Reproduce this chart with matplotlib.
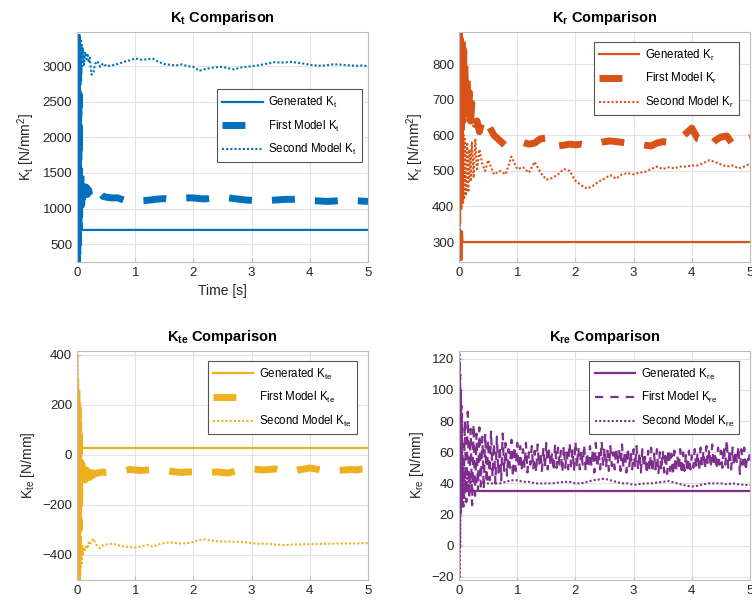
import numpy as np
import matplotlib
matplotlib.use("Agg")
import matplotlib.pyplot as plt

plt.rcParams["font.family"] = ["Liberation Sans", "DejaVu Sans"]
plt.rcParams["mathtext.fontset"] = "custom"
plt.rcParams["mathtext.rm"] = "Liberation Sans"
plt.rcParams["mathtext.it"] = "Liberation Sans"
plt.rcParams["mathtext.bf"] = "Liberation Sans:bold"
plt.rcParams["mathtext.default"] = "regular"


# =========================================================
# TIME BASES [s]
# =========================================================

T_START = [0.000, 0.005, 0.010, 0.015, 0.020, 0.025, 0.030, 0.035, 0.040, 0.045, 0.050]
T_SETTLE = [0.06, 0.07, 0.08, 0.09, 0.10, 0.12, 0.14, 0.16, 0.18, 0.20,
            0.22, 0.25, 0.28, 0.31, 0.35, 0.40, 0.45, 0.50]
T_RUN = np.round(np.arange(0.6, 5.05, 0.1), 1)
T_MODEL = np.concatenate([T_START, T_SETTLE, T_RUN])

T_GEN = [0.00, 0.01, 0.02, 0.03, 0.04, 0.05, 0.06, 5.00]

# K_re first model is logged on a finer grid
T_KRE_FIRST = np.concatenate([T_START[:10], np.round(np.arange(0.05, 5.001, 0.025), 3)])


# =========================================================
# K_t [N/mm^2]
# =========================================================

KT_GEN = [250, 700, 250, 700, 250, 700, 700, 700]

KT_FIRST = [3450, 250, 3400, 300, 3300, 500, 3000, 700, 2600, 900, 1450,
            1000, 1480, 1050, 1420, 1150, 1350, 1180, 1300, 1200, 1260,
            1180, 1230, 1190, 1220, 1180, 1210, 1170, 1160,
            1150, 1150, 1120, 1110, 1120, 1110, 1115, 1125, 1135, 1140,
            1130, 1140, 1145, 1150, 1150, 1140, 1135, 1145, 1150, 1160,
            1150, 1140, 1130, 1120, 1115, 1110, 1120, 1115, 1120, 1125,
            1130, 1130, 1135, 1125, 1115, 1110, 1105, 1100, 1105, 1110,
            1105, 1100, 1110, 1105, 1100]

KT_SECOND = [250, 3450, 300, 3400, 600, 3350, 1000, 3300, 2300, 3400, 2950,
             3380, 2950, 3300, 3000, 3250, 3020, 3200, 3100, 3180, 3050,
             3120, 2880, 2900, 3030, 3070, 2990, 3040, 3000,
             3010, 3030, 3060, 3080, 3110, 3090, 3095, 3105, 3060, 3030,
             3020, 3010, 3025, 3000, 2990, 2935, 2960, 2975, 2985, 2990,
             2970, 2955, 2980, 2990, 3000, 3010, 3025, 3040, 3056, 3050,
             3055, 3060, 3045, 3035, 3020, 3010, 3005, 3015, 3025, 3025,
             3015, 3010, 3005, 3010, 3000]


# =========================================================
# K_r [N/mm^2]
# =========================================================

KR_GEN = [245, 330, 250, 330, 250, 330, 300, 300]

KR_FIRST = [390, 890, 420, 880, 480, 870, 540, 860, 600, 850, 640,
            870, 640, 840, 650, 800, 660, 760, 650, 720, 640,
            690, 650, 630, 640, 610, 645, 625, 630,
            600, 585, 570, 575, 578, 580, 575, 578, 590, 592,
            598, 570, 572, 575, 573, 575, 572, 576, 578, 582,
            584, 582, 580, 578, 578, 575, 572, 570, 578, 582,
            580, 585, 590, 605, 620, 590, 585, 568, 585, 595,
            598, 575, 580, 590, 595]

KR_SECOND = [250, 890, 300, 880, 350, 860, 420, 820, 480, 750, 560,
             610, 410, 600, 420, 590, 430, 580, 440, 560, 470,
             580, 480, 590, 500, 560, 520, 500, 530,
             490, 500, 490, 540, 505, 510, 495, 525, 495, 475,
             480, 490, 505, 500, 472, 460, 450, 458, 470, 478,
             488, 478, 490, 494, 490, 495, 497, 505, 512, 505,
             510, 507, 512, 512, 515, 515, 522, 530, 525, 518,
             512, 515, 507, 512, 520]


# =========================================================
# K_te [N/mm]
# =========================================================

KTE_GEN = [-110, 85, -100, 80, -90, 70, 28, 28]

KTE_FIRST = [260, -500, 250, -480, 200, -400, 150, -300, 80, -200, -30,
             -130, -30, -120, -40, -110, -50, -100, -60, -95, -65,
             -90, -70, -80, -75, -72, -70, -68, -70,
             -68, -66, -63, -58, -60, -62, -60, -58, -60, -62,
             -65, -68, -70, -68, -67, -65, -68, -70, -68, -70,
             -72, -66, -60, -56, -55, -58, -60, -58, -56, -60,
             -62, -66, -60, -56, -52, -56, -60, -62, -60, -62,
             -60, -58, -60, -56, -55]

KTE_SECOND = [410, -500, 400, -490, 300, -480, 100, -460, -300, -450, -340,
              -450, -350, -440, -360, -400, -370, -380, -360, -375, -350,
              -360, -345, -335, -350, -365, -372, -360, -358,
              -355, -360, -366, -368, -370, -366, -360, -367, -358, -352,
              -350, -352, -355, -352, -347, -340, -338, -342, -345, -346,
              -346, -347, -348, -350, -352, -355, -355, -356, -358, -360,
              -360, -358, -358, -357, -357, -356, -356, -355, -355, -354,
              -354, -354, -354, -353, -353]


# =========================================================
# K_re [N/mm]
# =========================================================

KRE_GEN = [35, 35, 35, 35, 35, 35, 35, 35]

KRE_FIRST = [125, 20, 120, 25, 110, 22, 100, 25, 90, 28,
             85, 25, 80, 28, 86, 30, 75, 26, 78, 32, 72, 35, 76, 38, 70, 36, 72, 40, 68, 42,
             74, 44, 66, 40, 70, 46, 64, 42, 72, 48, 66, 45, 62, 50, 68, 44, 64, 48, 66, 50,
             64, 48, 62, 50, 66, 47, 60, 52, 64, 49, 61, 47, 65, 51, 60, 48, 63, 50, 66, 49,
             62, 51, 60, 48, 65, 50, 63, 52, 61, 47, 64, 50, 60, 49, 66, 51, 62, 48, 67, 50,
             63, 49, 61, 52, 65, 48, 60, 50, 64, 51, 62, 47, 66, 50, 61, 49, 67, 52, 63, 50,
             61, 48, 64, 51, 60, 49, 63, 52, 62, 48, 65, 50, 61, 47, 63, 51, 60, 49, 62, 50,
             64, 49, 60, 47, 62, 50, 58, 46, 61, 48, 63, 47, 59, 49, 62, 46, 60, 48, 61, 47,
             60, 46, 62, 48, 59, 45, 61, 47, 58, 49, 62, 46, 60, 48, 59, 47, 61, 49, 58, 50,
             62, 50, 60, 48, 63, 51, 61, 49, 64, 52, 62, 50, 65, 51, 60, 49, 63, 52, 61, 50,
             64, 52, 68, 50, 62, 49, 63, 51, 61, 53, 64, 46, 62, 52, 63, 48, 58, 55, 60]

KRE_SECOND = [-20, 125, -20, 110, 0, 90, 20, 70, 25, 60, 30,
              55, 28, 50, 30, 48, 34, 46, 36, 45, 38,
              44, 40, 42, 41, 42, 41, 40, 40,
              40, 40, 41, 42, 42, 41, 41, 40, 40, 40,
              40, 40.5, 41, 41, 40, 40, 41, 42, 42.5, 43,
              42, 41, 40, 40, 39, 39.5, 40, 40, 40.5, 41,
              41.5, 40.5, 39.5, 38.5, 38, 38.5, 39.5, 40, 40, 40,
              39.5, 40, 39.5, 39, 39]


BLUE = "#0072BD"
ORANGE = "#D95319"
YELLOW = "#EDB120"
PURPLE = "#7E2F8E"

THICK_DASH = dict(lw=5, ls=(0, (3.3, 2.9)))
THIN_DASH = dict(lw=1.6, ls=(0, (3.7, 3.2)))


# =========================================================
# ONE PANEL
# =========================================================

def plot_panel(ax, color, sub, unit, gen, first, second, first_t,
               first_style, ylim, yticks):

    ax.plot(T_GEN, gen, color=color, lw=1.6, label=f"Generated K$_{{{sub}}}$")

    ax.plot(first_t, first, color=color, **first_style,
            label=f"First Model K$_{{{sub}}}$")

    ax.plot(T_MODEL, second, color=color, lw=1.5, ls=(0, (1, 1)),
            label=f"Second Model K$_{{{sub}}}$")

    ax.set_xlim(0, 5)
    ax.set_ylim(*ylim)
    ax.set_xticks([0, 1, 2, 3, 4, 5])
    ax.set_yticks(yticks)

    ax.set_title(f"$\\mathbf{{K_{{{sub}}}}}$ Comparison", fontsize=10.5,
                 fontweight="bold", pad=7)
    ax.set_ylabel(f"K$_{{{sub}}}$ [{unit}]", fontsize=10, color="#262626")

    ax.grid(True, color="#e3e3e3", lw=0.8)
    ax.set_axisbelow(True)
    for sp in ax.spines.values():
        sp.set_color("#bdbdbd")
        sp.set_linewidth(0.8)
    ax.tick_params(direction="in", length=3, labelsize=9.5,
                   colors="#bdbdbd", labelcolor="#262626")

    leg = ax.legend(loc="upper right", bbox_to_anchor=(0.963, 0.955),
                    fontsize=8.3, handlelength=3.5, handletextpad=0.5,
                    labelspacing=0.75, borderpad=0.45, borderaxespad=0,
                    fancybox=False, framealpha=1, edgecolor="#555555")
    leg.get_frame().set_linewidth(0.8)
    return leg


fig = plt.figure(figsize=(7.52, 6.08), dpi=100)

W = 0.387
ax_kt = fig.add_axes([0.1024, 0.5691, W, 0.3783])
ax_kr = fig.add_axes([0.6104, 0.5691, W, 0.3783])
ax_kte = fig.add_axes([0.1024, 0.0461, W, 0.3766])
ax_kre = fig.add_axes([0.6104, 0.0461, W, 0.3766])

leg = plot_panel(ax_kt, BLUE, "t", "N/mm$^2$", KT_GEN, KT_FIRST, KT_SECOND,
                 T_MODEL, THICK_DASH, (250, 3480),
                 [500, 1000, 1500, 2000, 2500, 3000])
leg.set_bbox_to_anchor((0.98, 0.75), transform=ax_kt.transAxes)
ax_kt.set_xlabel("Time [s]", fontsize=10, color="#262626")

plot_panel(ax_kr, ORANGE, "r", "N/mm$^2$", KR_GEN, KR_FIRST, KR_SECOND,
           T_MODEL, THICK_DASH, (244, 890),
           [300, 400, 500, 600, 700, 800])

plot_panel(ax_kte, YELLOW, "te", "N/mm", KTE_GEN, KTE_FIRST, KTE_SECOND,
           T_MODEL, THICK_DASH, (-500, 416),
           [-400, -200, 0, 200, 400])

plot_panel(ax_kre, PURPLE, "re", "N/mm", KRE_GEN, KRE_FIRST, KRE_SECOND,
           T_KRE_FIRST, THIN_DASH, (-22, 125),
           [-20, 0, 20, 40, 60, 80, 100, 120])

fig.savefig("out.png", dpi=100)
